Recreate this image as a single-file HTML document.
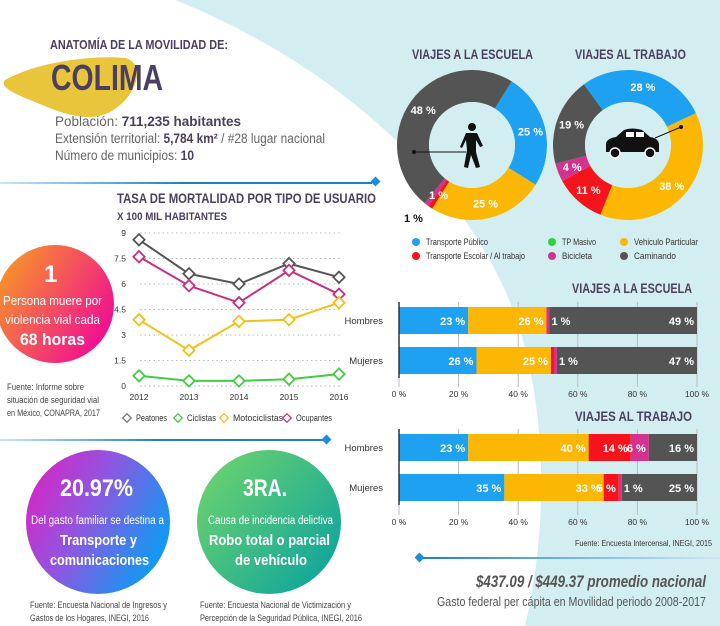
<!DOCTYPE html>
<html><head><meta charset="utf-8">
<style>
html,body{margin:0;padding:0;}
body{width:720px;height:626px;overflow:hidden;position:relative;font-family:"Liberation Sans",sans-serif;background:#d3eef0;}
svg{position:absolute;left:0;top:0;}
</style></head>
<body>
<svg id="root" width="720" height="626" viewBox="0 0 720 626" font-family="Liberation Sans, sans-serif">
<defs>
<linearGradient id="gOrange" x1="0" y1="0" x2="1" y2="0.6"><stop offset="0" stop-color="#f9a51c"/><stop offset="1" stop-color="#f0128e"/></linearGradient>
<linearGradient id="gPurple" x1="0" y1="0" x2="1" y2="0.5"><stop offset="0" stop-color="#e61cc0"/><stop offset="0.5" stop-color="#9055e0"/><stop offset="1" stop-color="#1796f2"/></linearGradient>
<linearGradient id="gGreen" x1="0" y1="0" x2="1" y2="0.8"><stop offset="0" stop-color="#74d66a"/><stop offset="1" stop-color="#0fa59c"/></linearGradient>
<linearGradient id="gLine" x1="0" y1="0" x2="1" y2="0"><stop offset="0" stop-color="#c9e6f7"/><stop offset="0.5" stop-color="#1a7fd0"/><stop offset="1" stop-color="#1a7fd0"/></linearGradient>
<linearGradient id="gLine2" x1="0" y1="0" x2="1" y2="0"><stop offset="0" stop-color="#1a7fd0"/><stop offset="1" stop-color="#cfe8f5"/></linearGradient>
</defs>
<path d="M0,0 L175,0 C350,70 480,200 520,330 C550,430 545,540 525,626 L0,626 Z" fill="#ffffff"/>
<path d="M5,80 C40,60 100,55 125,58 C145,62 140,95 110,112 C85,125 55,110 30,100 C10,92 0,86 5,80 Z" fill="#e9c53c"/>
<text x="50" y="49" font-size="12.5" font-weight="bold" fill="#4a3f5e" textLength="178" lengthAdjust="spacingAndGlyphs">ANATOMÍA DE LA MOVILIDAD DE:</text>
<text x="51" y="90" font-size="36" font-weight="bold" fill="#4a3f5e" textLength="112" lengthAdjust="spacingAndGlyphs">COLIMA</text>
<text x="55" y="126" font-size="13.5" fill="#666" textLength="186" lengthAdjust="spacingAndGlyphs">Población: <tspan font-weight="bold" fill="#4a3f5e">711,235 habitantes</tspan></text>
<text x="55" y="143" font-size="13.5" fill="#666" textLength="270" lengthAdjust="spacingAndGlyphs">Extensión territorial: <tspan font-weight="bold" fill="#4a3f5e">5,784 km²</tspan> / #28 lugar nacional</text>
<text x="55" y="160" font-size="13.5" fill="#666" textLength="139" lengthAdjust="spacingAndGlyphs">Número de municipios: <tspan font-weight="bold" fill="#4a3f5e">10</tspan></text>
<rect x="0" y="182" width="372" height="2" fill="url(#gLine)"/>
<rect x="372" y="178" width="7" height="7" fill="#1a8de0" transform="rotate(45 375.5 181.5)"/>
<rect x="0" y="439" width="324" height="2" fill="url(#gLine)"/>
<rect x="323" y="436" width="7" height="7" fill="#1a8de0" transform="rotate(45 326.5 439.5)"/>
<rect x="420" y="557" width="300" height="2" fill="url(#gLine2)"/>
<rect x="416" y="554" width="7" height="7" fill="#1a8de0" transform="rotate(45 419.5 557.5)"/>

<text x="117" y="203" font-size="13.5" font-weight="bold" fill="#4a3f5e" textLength="259" lengthAdjust="spacingAndGlyphs">TASA DE MORTALIDAD POR TIPO DE USUARIO</text>
<text x="117" y="220" font-size="11" font-weight="bold" fill="#4a3f5e" textLength="110" lengthAdjust="spacingAndGlyphs">X 100 MIL HABITANTES</text>
<g id="lineChart"></g>

<circle cx="55" cy="304" r="59" fill="url(#gOrange)"/>
<g fill="#fff">
<text x="44" y="282" font-size="24" font-weight="bold">1</text>
<text x="3" y="305" font-size="13" textLength="99" lengthAdjust="spacingAndGlyphs">Persona muere por</text>
<text x="5" y="324" font-size="13" textLength="95" lengthAdjust="spacingAndGlyphs">violencia vial cada</text>
<text x="20" y="345" font-size="17" font-weight="bold" textLength="65" lengthAdjust="spacingAndGlyphs">68 horas</text>
</g>
<g font-size="9" fill="#444">
<text x="7" y="390" textLength="77" lengthAdjust="spacingAndGlyphs">Fuente: Informe sobre</text>
<text x="7" y="403" textLength="92" lengthAdjust="spacingAndGlyphs">situación de seguridad vial</text>
<text x="7" y="416" textLength="93" lengthAdjust="spacingAndGlyphs">en México, CONAPRA, 2017</text>
</g>

<circle cx="98" cy="522" r="72" fill="url(#gPurple)"/>
<g fill="#fff">
<text x="60" y="496" font-size="24" font-weight="bold" textLength="73" lengthAdjust="spacingAndGlyphs">20.97%</text>
<text x="31" y="524" font-size="11.5" textLength="133" lengthAdjust="spacingAndGlyphs">Del gasto familiar  se destina a</text>
<text x="60" y="545" font-size="15" font-weight="bold" textLength="77" lengthAdjust="spacingAndGlyphs">Transporte y</text>
<text x="50" y="565" font-size="15" font-weight="bold" textLength="99" lengthAdjust="spacingAndGlyphs">comunicaciones</text>
</g>
<g font-size="9" fill="#444">
<text x="30" y="608" textLength="137" lengthAdjust="spacingAndGlyphs">Fuente: Encuesta Nacional de Ingresos y</text>
<text x="30" y="621" textLength="119" lengthAdjust="spacingAndGlyphs">Gastos de los Hogares, INEGI, 2016</text>
</g>

<circle cx="269" cy="522" r="72" fill="url(#gGreen)"/>
<g fill="#fff">
<text x="243" y="496" font-size="24" font-weight="bold" textLength="44" lengthAdjust="spacingAndGlyphs">3RA.</text>
<text x="208" y="524" font-size="11.5" textLength="125" lengthAdjust="spacingAndGlyphs">Causa de incidencia delictiva</text>
<text x="209" y="545" font-size="15" font-weight="bold" textLength="121" lengthAdjust="spacingAndGlyphs">Robo total o parcial</text>
<text x="235" y="565" font-size="15" font-weight="bold" textLength="72" lengthAdjust="spacingAndGlyphs">de vehículo</text>
</g>
<g font-size="9" fill="#444">
<text x="200" y="608" textLength="151" lengthAdjust="spacingAndGlyphs">Fuente: Encuesta Nacional de Victimización y</text>
<text x="200" y="621" textLength="162" lengthAdjust="spacingAndGlyphs">Percepción de la Seguridad Pública, INEGI, 2016</text>
</g>

<text x="412" y="59" font-size="13.5" font-weight="bold" fill="#4a3f5e" textLength="121" lengthAdjust="spacingAndGlyphs">VIAJES A LA ESCUELA</text>
<text x="575" y="59" font-size="13.5" font-weight="bold" fill="#4a3f5e" textLength="111" lengthAdjust="spacingAndGlyphs">VIAJES AL TRABAJO</text>
<g id="donuts"></g>
<g fill="#111">
<circle cx="472" cy="127" r="4"/>
<path d="M466,133 L477,133 L483,146 L480,147 L476,140 L476,152 L480,167 L476,168 L471,155 L468,168 L464,167 L467,150 L466,140 L462,148 L460,147 Z"/>
<line x1="414" y1="152" x2="466" y2="152" stroke="#111" stroke-width="1"/>
<circle cx="414" cy="152" r="2"/>
</g>
<g fill="#111">
<path d="M606,152 L606,143 Q608,138 616,137 L624,130 Q632,127 642,130 L650,137 Q658,138 659,144 L659,152 Z"/>
<rect x="626" y="132" width="8" height="5" fill="#fff"/>
<rect x="636" y="132" width="8" height="5" fill="#fff"/>
<circle cx="615" cy="153" r="5" stroke="#fff" stroke-width="1.5"/>
<circle cx="650" cy="153" r="5" stroke="#fff" stroke-width="1.5"/>
<line x1="655" y1="138" x2="681" y2="127" stroke="#111" stroke-width="1"/>
<circle cx="681" cy="127" r="2"/>
</g>
<g id="donutLegend" font-size="9.5" fill="#333"></g>

<text x="572" y="293" font-size="13.5" font-weight="bold" fill="#4a3f5e" textLength="120" lengthAdjust="spacingAndGlyphs">VIAJES A LA ESCUELA</text>
<text x="575" y="421" font-size="13.5" font-weight="bold" fill="#4a3f5e" textLength="117" lengthAdjust="spacingAndGlyphs">VIAJES AL TRABAJO</text>
<g id="bars"></g>
<text x="575" y="546" font-size="8.5" fill="#333" textLength="137" lengthAdjust="spacingAndGlyphs">Fuente: Encuesta Intercensal, INEGI, 2015</text>

<text x="476" y="587" font-size="17" font-weight="bold" font-style="italic" fill="#555" textLength="230" lengthAdjust="spacingAndGlyphs">$437.09 / $449.37 promedio nacional</text>
<text x="437" y="606" font-size="12.5" fill="#555" textLength="269" lengthAdjust="spacingAndGlyphs">Gasto federal per cápita en Movilidad periodo 2008-2017</text>
</svg>
<script>
const NS="http://www.w3.org/2000/svg";
function mk(tag,attrs,parent){const e=document.createElementNS(NS,tag);for(const k in attrs)e.setAttribute(k,attrs[k]);parent.appendChild(e);return e;}

/* ---- line chart data ---- */
const years=["2012","2013","2014","2015","2016"];
const yTicks=[0,1.5,3,4.5,6,7.5,9];
const peatones=[8.6,6.6,6.0,7.2,6.4];
const ciclistas=[0.6,0.3,0.3,0.4,0.7];
const motociclistas=[3.9,2.1,3.8,3.9,4.9];
const ocupantes=[7.6,5.9,4.9,6.8,5.4];
const seriesNames=["Peatones","Ciclistas","Motociclistas","Ocupantes"];

/* ---- donut data ---- */
const modeNames=["Transporte Público","Transporte Escolar / Al trabajo","TP Masivo","Bicicleta","Vehiculo Particular","Caminando"];
const schoolShares=[25,25,1,1,48];
const workShares=[28,38,11,4,19];
const schoolLabels=["25 %","25 %","1 %","","48 %"];
const workLabels=["28 %","38 %","11 %","4 %","19 %"];

/* ---- bar data ---- */
const barGroups=["Hombres","Mujeres"];
const schoolMen=[23,26,0,1,49];
const schoolWomen=[26,25,1,1,47];
const workMen=[23,40,14,6,16];
const workWomen=[35,33,5,1,25];
const pctTicks=[0,20,40,60,80,100];

const COLORS=["#1ea1f0","#fbb703","#f5141c","#d3338c","#545454"];

const lc=document.getElementById("lineChart");
const x0=139,x1=339,yBase=386,yTop=233;
const xS=i=>x0+(x1-x0)*i/(years.length-1);
const yS=v=>yBase-(v/9)*(yBase-yTop);
yTicks.forEach(t=>{
  const g=mk("line",{x1:140,x2:342,y1:yS(t),y2:yS(t),stroke:"#bbb","stroke-width":1,"stroke-dasharray":"1.5 3"},lc);
  
  
  const tx=mk("text",{x:126,y:yS(t)+3,"font-size":8.5,fill:"#333","text-anchor":"end"},lc);
  tx.textContent=String(t);
  
  
});
years.forEach((y,i)=>{
  const tx=mk("text",{x:xS(i),y:400,"font-size":8.5,fill:"#333","text-anchor":"middle"},lc);
  tx.textContent=y;
  
  
});
const lineSeries=[[peatones,"#555"],[ocupantes,"#c8307e"],[motociclistas,"#f2c018"],[ciclistas,"#44cc44"]];
lineSeries.forEach(([vals,col])=>{
  const pts=vals.map((v,i)=>xS(i)+","+yS(v)).join(" ");
  const pl=mk("polyline",{points:pts,fill:"none",stroke:col,"stroke-width":2},lc);
  
  
  vals.forEach((v,i)=>{
    const d=mk("rect",{x:xS(i)-4,y:yS(v)-4,width:8,height:8,fill:"#fff",stroke:col,"stroke-width":1.8,transform:`rotate(45 ${xS(i)} ${yS(v)})`},lc);
    
    
  });
});
const legCols=["#777","#44cc44","#f2c018","#c8307e"];
const legX=[127,178,224,287];
const legW=[31,29,50,36];
seriesNames.forEach((n,i)=>{
  const d=mk("rect",{x:legX[i]-3,y:415,width:6,height:6,fill:"#fff",stroke:legCols[i],"stroke-width":1.3,transform:`rotate(45 ${legX[i]} 418)`},lc);
  
  
  const t=mk("text",{x:legX[i]+9,y:421,"font-size":9,fill:"#333",textLength:legW[i],lengthAdjust:"spacingAndGlyphs"},lc);
  t.textContent=n;
  
  
});

const dn=document.getElementById("donuts");
function donut(cx,cy,shares,labels,startDeg){
  const tot=shares.reduce((a,b)=>a+b,0);
  let a=startDeg;const R=75,r=43;
  const p=(ang,rad)=>[cx+rad*Math.sin(ang*Math.PI/180),cy-rad*Math.cos(ang*Math.PI/180)];
  shares.forEach((s,i)=>{
    const a2=a+360*s/tot;
    const [ax,ay]=p(a,R),[bx,by]=p(a2,R),[cx2,cy2]=p(a2,r),[dx,dy]=p(a,r);
    const lg=(a2-a)>180?1:0;
    const path=mk("path",{d:`M${ax},${ay} A${R},${R} 0 ${lg} 1 ${bx},${by} L${cx2},${cy2} A${r},${r} 0 ${lg} 0 ${dx},${dy} Z`,fill:COLORS[i]},dn);
    
    
    a=a2;
  });
  a=startDeg;
  shares.forEach((s,i)=>{
    const a2=a+360*s/tot;
    if(labels[i]){
      const m=(a+a2)/2;const [lx,ly]=p(m,60);
      const t=mk("text",{x:lx,y:ly+4,"font-size":11,"font-weight":"bold",fill:"#fff","text-anchor":"middle"},dn);
      t.textContent=labels[i];
      
      
    }
    a=a2;
  });
  mk("circle",{cx,cy,r,fill:"#d3eef0"},dn);
}
donut(472,145,schoolShares,schoolLabels,32);
donut(628,145,workShares,workLabels,-36);
const extra=mk("text",{x:404,y:222,"font-size":11,"font-weight":"bold",fill:"#111"},dn);
extra.textContent="1 %";



const dl=document.getElementById("donutLegend");
const legItems=[[416,245,"#1ea1f0",modeNames[0],62],[416,259,"#f5141c",modeNames[1],99],[552,245,"#2ed13b",modeNames[2],34],[552,259,"#d3338c",modeNames[3],30],[624,245,"#fbb703",modeNames[4],64],[624,259,"#545454",modeNames[5],42]];
legItems.forEach(([x,y,c,n,w])=>{
  const cc=mk("circle",{cx:x,cy:y-3,r:4,fill:c},dl);
  
  
  const t=mk("text",{x:x+10,y:y,textLength:w,lengthAdjust:"spacingAndGlyphs"},dl);
  t.textContent=n;
  
  
});

const bg=document.getElementById("bars");
const bx0=399,bx1=697;
const bxS=p=>bx0+(bx1-bx0)*p/100;
function barChart(rows,ys,axisY,topY){
  pctTicks.forEach(t=>{
    const l=mk("line",{x1:bxS(t),x2:bxS(t),y1:topY,y2:axisY-10,stroke:"#bbb","stroke-width":1},bg);
    
    
    const tx=mk("text",{x:bxS(t),y:axisY,"font-size":8.5,fill:"#333","text-anchor":"middle"},bg);
    tx.textContent=t+" %";
    
    
  });
  rows.forEach((vals,ri)=>{
    const tot=vals.reduce((a,b)=>a+b,0);
    let acc=0;const y=ys[ri];
    const lab=mk("text",{x:383,y:y+17,"font-size":9.5,fill:"#333","text-anchor":"end"},bg);
    lab.textContent=barGroups[ri];
    
    
    vals.forEach((v,i)=>{
      const s=acc/tot*100,e=(acc+v)/tot*100;acc+=v;
      if(v<=0)return;
      const r=mk("rect",{x:bxS(s),y:y,width:bxS(e)-bxS(s),height:27,fill:COLORS[i]},bg);
      
      
    });
    acc=0;
    vals.forEach((v,i)=>{
      const s=acc/tot*100,e=(acc+v)/tot*100;acc+=v;
      if(v<=0)return;
      const w=bxS(e)-bxS(s);
      const next=vals[i+1];
      const nextW=next!==undefined?next/tot*(bx1-bx0):99;
      if(w<12 && nextW<12 && next>0)return; // merge consecutive tiny labels
      const t=mk("text",{"font-size":11,"font-weight":"bold",fill:"#fff",y:y+18},bg);
      if(w>=12){t.setAttribute("x",bxS(e)-3);t.setAttribute("text-anchor","end");}
      else{t.setAttribute("x",bxS(e)+2);}
      t.textContent=v+" %";
      
      
    });
  });
  const ax=mk("line",{x1:bx0,x2:bx0,y1:topY,y2:ys[1]+31,stroke:"#333","stroke-width":1.5},bg);
  
  
}
barChart([schoolMen,schoolWomen],[307,347],397,302);
barChart([workMen,workWomen],[434,474],525,429);
</script>
</body></html>
